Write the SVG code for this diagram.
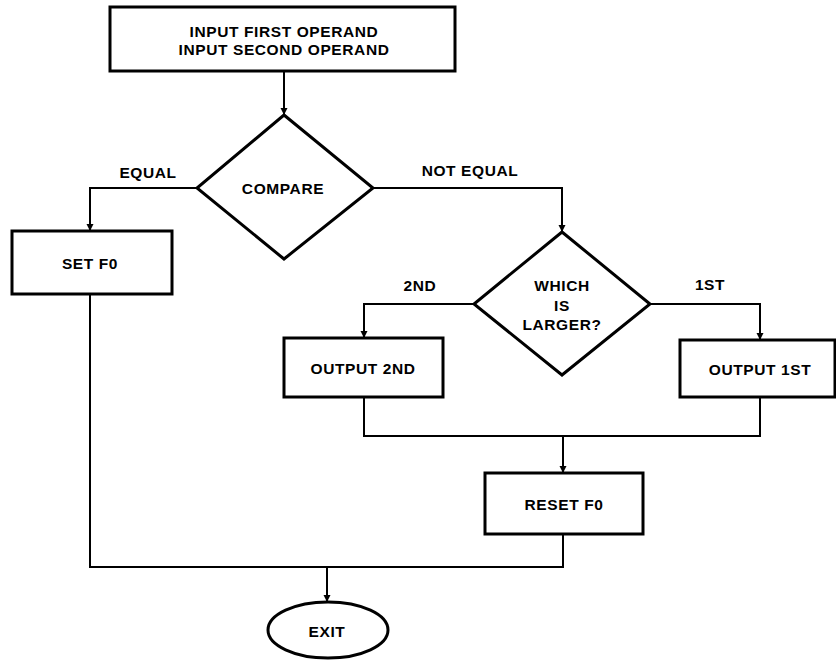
<svg xmlns="http://www.w3.org/2000/svg" width="836" height="660" viewBox="0 0 836 660">
<defs>
<style>
.box{fill:#fff;stroke:#000;stroke-width:3}
.ln{fill:none;stroke:#000;stroke-width:2}
.t{font-family:"Liberation Sans",Arial,sans-serif;font-weight:bold;font-size:15.5px;letter-spacing:0.6px;fill:#000;text-anchor:middle}
</style>
<marker id="ah" viewBox="0 0 10 10" refX="10" refY="5" markerWidth="7" markerHeight="9" markerUnits="userSpaceOnUse" orient="auto">
<path d="M0,0 L10,5 L0,10 Z" fill="#000"/>
</marker>
</defs>
<rect width="836" height="660" fill="#fff"/>
<g id="connectors">
<path class="ln" d="M284,72 V115" marker-end="url(#ah)"/>
<path class="ln" d="M197,188 H90 V231" marker-end="url(#ah)"/>
<path class="ln" d="M373,188 H562 V232" marker-end="url(#ah)"/>
<path class="ln" d="M474,304 H364 V338" marker-end="url(#ah)"/>
<path class="ln" d="M650,304 H760 V340" marker-end="url(#ah)"/>
<path class="ln" d="M364,397 V436 H760 V397"/>
<path class="ln" d="M563,436 V473" marker-end="url(#ah)"/>
<path class="ln" d="M90,294 V567 H563 V534"/>
<path class="ln" d="M327,567 V602" marker-end="url(#ah)"/>
</g>
<g id="input">
<rect class="box" x="110" y="7" width="345" height="64"/>
<text class="t" x="284" y="37">INPUT FIRST OPERAND</text>
<text class="t" x="284" y="55">INPUT SECOND OPERAND</text>
</g>
<g id="compare">
<polygon class="box" points="284,115 373,188 284,259 197,188"/>
<text class="t" x="283" y="194">COMPARE</text>
</g>
<text class="t" x="148" y="178">EQUAL</text>
<text class="t" x="470" y="176">NOT EQUAL</text>
<g id="setf0">
<rect class="box" x="12" y="231" width="160" height="63"/>
<text class="t" x="90" y="269">SET F0</text>
</g>
<g id="which">
<polygon class="box" points="562,232 650,304 562,375 474,304"/>
<text class="t" x="562" y="291">WHICH</text>
<text class="t" x="562" y="311">IS</text>
<text class="t" x="562" y="330">LARGER?</text>
</g>
<text class="t" x="420" y="291">2ND</text>
<text class="t" x="710" y="290">1ST</text>
<g id="output2nd">
<rect class="box" x="284" y="338" width="159" height="59"/>
<text class="t" x="363" y="374">OUTPUT 2ND</text>
</g>
<g id="output1st">
<rect class="box" x="680" y="340" width="155" height="57"/>
<text class="t" x="760" y="375">OUTPUT 1ST</text>
</g>
<g id="resetf0">
<rect class="box" x="485" y="473" width="158" height="61"/>
<text class="t" x="564" y="510">RESET F0</text>
</g>
<g id="exit">
<ellipse class="box" cx="328" cy="630" rx="60" ry="28"/>
<text class="t" x="327" y="637">EXIT</text>
</g>
</svg>
